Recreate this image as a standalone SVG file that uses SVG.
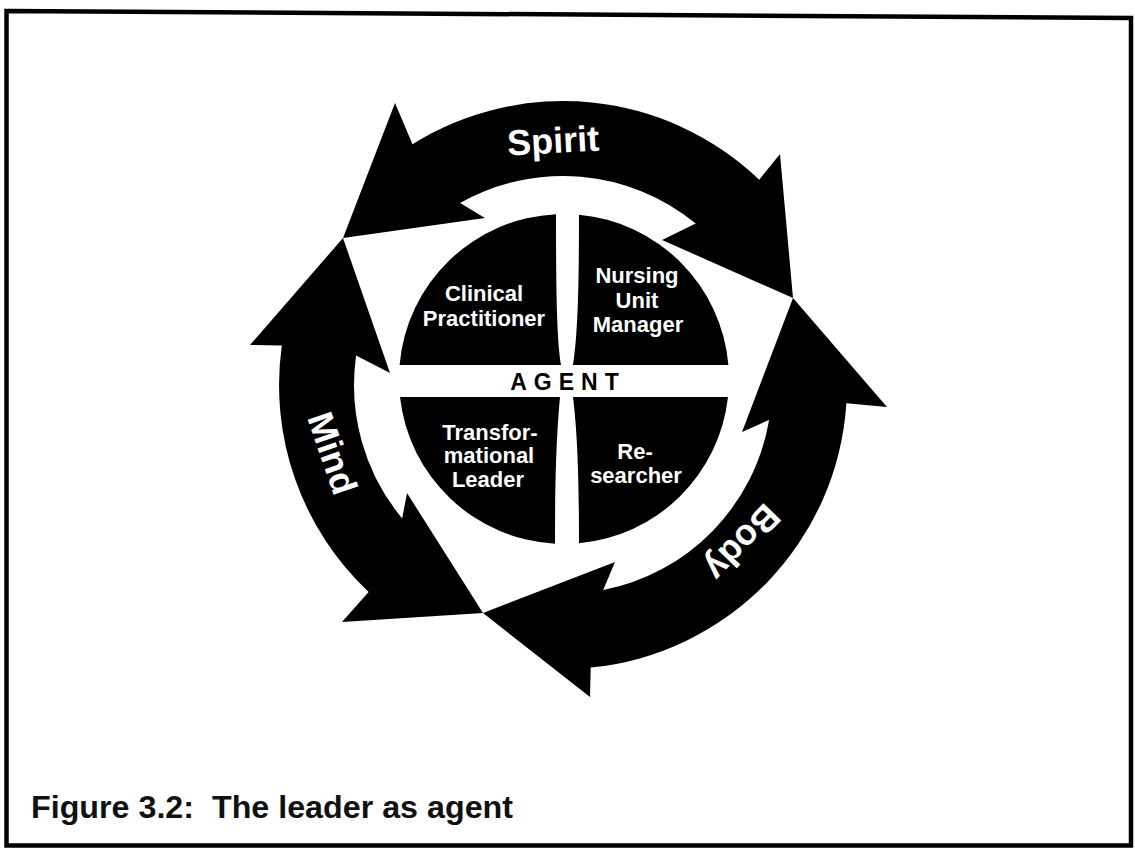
<svg xmlns="http://www.w3.org/2000/svg" width="1135" height="849" viewBox="0 0 1135 849">
  <style>
    .ink { fill: #000; }
    .frame { fill: none; stroke: #000; stroke-width: 4.5; stroke-linejoin: miter; }
    .qt { font-family: "Liberation Sans", Arial, sans-serif; font-weight: bold; font-size: 22px; fill: #fff; text-anchor: middle; }
    .band { font-family: "Liberation Sans", Arial, sans-serif; font-weight: bold; font-size: 36px; fill: #fff; text-anchor: middle; }
    .agent { font-family: "Liberation Sans", Arial, sans-serif; font-weight: bold; font-size: 23px; fill: #000; text-anchor: middle; letter-spacing: 7px; }
    .caption { font-family: "Liberation Sans", Arial, sans-serif; font-weight: bold; font-size: 31px; fill: #111; }
  </style>

  <rect x="0" y="0" width="1135" height="849" fill="#fff"/>

  <!-- page frame -->
  <path class="frame" d="M6.5,11 L1131,18 L1131,845.5 L6.5,845.5 Z"/>

  <!-- cycle arrows (double-headed, meeting tip to tip) -->
  <g id="connectors">
    <g id="arrow-spirit">
      <path class="ink" d="M412.5,144.2 A284,284 0 0 1 759.2,179.7 L780,154 L793,298 L662,240 L695.7,223.5 A209,209 0 0 0 460.1,203.1 L485,218 L343,238 L395,103 Z"/>
      <text class="band" transform="translate(553,140) rotate(-3)" y="13">Spirit</text>
    </g>
    <g id="arrow-body">
      <path class="ink" d="M846.4,403.3 A284,284 0 0 1 590.7,667.6 L590,697 L483,613 L615,562 L603.2,590.1 A209,209 0 0 0 769.1,419.9 L742,432 L793,298 L887,407 Z"/>
      <text class="band" transform="translate(743,543) rotate(134)" y="13">Body</text>
    </g>
    <g id="arrow-mind">
      <path class="ink" d="M368.6,592 A284,284 0 0 1 281.8,345.5 L250,345 L343,238 L390,373 L356.1,355.6 A209,209 0 0 0 402.2,518.5 L407,493 L483,613 L342,622 Z"/>
      <text class="band" transform="translate(333,453) rotate(71)" y="13">Mind</text>
    </g>
  </g>

  <!-- central disc split into four roles -->
  <g id="clinical-practitioner">
    <path class="ink" d="M399.6,365 A165,165 0 0 1 556,214.2 C556,300 557,340 561,365 Z"/>
    <text class="qt" x="484" y="301">Clinical</text>
    <text class="qt" x="484" y="326">Practitioner</text>
  </g>
  <g id="nursing-unit-manager">
    <path class="ink" d="M579,214.7 A165,165 0 0 1 728.4,365 L573,365 C577,340 579,300 579,214.7 Z"/>
    <text class="qt" x="637" y="283">Nursing</text>
    <text class="qt" x="637" y="308">Unit</text>
    <text class="qt" x="638" y="332">Manager</text>
  </g>
  <g id="transformational-leader">
    <path class="ink" d="M400,397 L560,397 C557,430 555,470 555,543.7 A165,165 0 0 1 400,397 Z"/>
    <text class="qt" x="490" y="440">Transfor-</text>
    <text class="qt" x="489" y="463">mational</text>
    <text class="qt" x="488" y="487">Leader</text>
  </g>
  <g id="researcher">
    <path class="ink" d="M573,397 L728,397 A165,165 0 0 1 579,543.3 C579,470 577,430 573,397 Z"/>
    <text class="qt" x="635" y="459">Re-</text>
    <text class="qt" x="636" y="483">searcher</text>
  </g>
  <g id="agent">
    <text class="agent" x="568" y="390">AGENT</text>
  </g>

  <text class="caption" x="31" y="818" xml:space="preserve" textLength="482" lengthAdjust="spacingAndGlyphs">Figure 3.2:  The leader as agent</text>
</svg>
